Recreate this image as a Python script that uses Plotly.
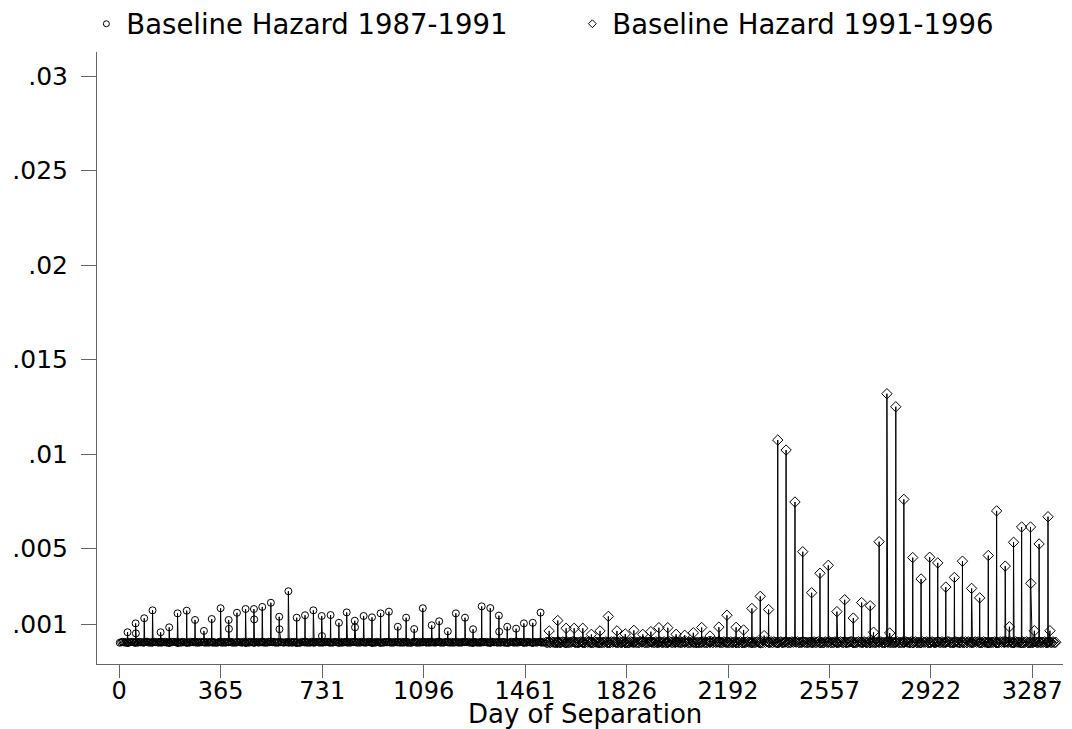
import plotly.graph_objects as go

# Baseline hazard, 1987-1991 cohort: monthly peaks (day of separation, hazard)
peak_days_87 = [30, 59, 90, 120, 149, 180, 210, 243, 273, 305,
                333, 365, 394, 424, 455, 485, 515, 546, 576, 609,
                639, 669, 699, 729, 761, 791, 819, 848, 880, 910,
                941, 971, 1003, 1033, 1062, 1093, 1125, 1152, 1183, 1212,
                1245, 1274, 1305, 1336, 1367, 1397, 1429, 1457, 1489, 1517]
peak_haz_87 = [0.00058, 0.00105, 0.00132, 0.00174, 0.00058, 0.00084, 0.00158, 0.00172, 0.00123, 0.00065,
               0.00128, 0.00185, 0.00123, 0.00161, 0.00181, 0.00181, 0.00192, 0.00214, 0.00140, 0.00275,
               0.00135, 0.00148, 0.00174, 0.00144, 0.00149, 0.00108, 0.00163, 0.00119, 0.00144, 0.00137,
               0.00158, 0.00167, 0.00087, 0.00135, 0.00075, 0.00185, 0.00095, 0.00116, 0.00063, 0.00158,
               0.00135, 0.00074, 0.00195, 0.00186, 0.00146, 0.00087, 0.00077, 0.00105, 0.00108, 0.00162]
# smaller values on the day after some peaks
extra_days_87 = [60, 395, 486, 577, 730, 849, 1368]
extra_haz_87 = [0.00052, 0.00076, 0.00126, 0.00074, 0.00038, 0.00084, 0.00061]
# everyday level between peaks, one digit per 5 days (units of 0.000025)
base_start_87 = 2
base_87 = ("1232131223" "2131322123" "3121232213" "1223121323" "2312132212"
           "1322312132" "2213123121" "1232131223" "3121232213" "2131322123"
           "1223121323" "2312132212" "2213123121" "1322312132" "1232131223"
           "3121232213" "1223121323" "2131322123" "2312132212" "1322312132"
           "2213123121" "1232131223" "2131322123" "3121232213" "1223121323"
           "2312132212" "1322312132" "2213123121" "1232131223" "2131322123"
           "1232131")

# Baseline hazard, 1991-1996 cohort
peak_days_91 = [1548, 1579, 1609, 1638, 1669, 1700, 1731, 1761, 1792, 1822,
                1853, 1885, 1914, 1943, 1975, 2005, 2036, 2067, 2097, 2127,
                2159, 2188, 2221, 2248, 2278, 2308, 2338, 2371, 2401, 2433,
                2461, 2493, 2523, 2553, 2584, 2612, 2643, 2673, 2704, 2736,
                2764, 2796, 2825, 2857, 2887, 2918, 2947, 2976, 3007, 3036,
                3069, 3098, 3129, 3159, 3190, 3220, 3249, 3281, 3312, 3344]
peak_haz_91 = [0.00065, 0.00120, 0.00079, 0.00079, 0.00079, 0.00047, 0.00065, 0.00142, 0.00065, 0.00049,
               0.00068, 0.00047, 0.00061, 0.00082, 0.00082, 0.00047, 0.00042, 0.00055, 0.00083, 0.00038,
               0.00085, 0.00148, 0.00084, 0.00070, 0.00184, 0.00248, 0.00178, 0.01075, 0.01022, 0.00747,
               0.00484, 0.00267, 0.00370, 0.00412, 0.00167, 0.00230, 0.00133, 0.00215, 0.00198, 0.00537,
               0.01320, 0.01251, 0.00761, 0.00453, 0.00340, 0.00455, 0.00425, 0.00297, 0.00348, 0.00434,
               0.00290, 0.00240, 0.00464, 0.00700, 0.00408, 0.00534, 0.00615, 0.00615, 0.00525, 0.00669]
extra_days_91 = [2322, 2716, 2774, 3205, 3282, 3295, 3351]
extra_haz_91 = [0.00040, 0.00058, 0.00054, 0.00087, 0.00317, 0.00066, 0.00066]
base_start_91 = 1537
base_91 = ("2131322123" "1232131223" "3121232213" "2312132212" "1223121323"
           "2213123121" "1322312132" "3121232213" "1232131223" "2131322123"
           "2312132212" "1223121323" "1322312132" "2213123121" "3121232213"
           "1232131223" "2131322123" "1223121323" "2312132212" "2213123121"
           "1322312132" "1232131223" "3121232213" "2131322123" "2312132212"
           "1223121323" "2213123121" "1322312132" "1232131223" "3121232213"
           "2131322123" "2312132212" "1223121323" "1322312132" "2213123121"
           "1232131223" "12321312")
base_unit = 0.000025

x_ticks = [0, 365, 731, 1096, 1461, 1826, 2192, 2557, 2922, 3287]
y_ticks = [0.001, 0.005, 0.01, 0.015, 0.02, 0.025, 0.03]
y_labels = ['.001', '.005', '.01', '.015', '.02', '.025', '.03']


def build_series(start, levels, peak_days, peak_haz, extra_days, extra_haz):
    pts = {}
    for i, c in enumerate(levels):
        pts[start + 5 * i] = int(c) * base_unit
    for d, h in zip(peak_days, peak_haz):
        near = pts.get(start + 5 * round((d - start) / 5), base_unit)
        pts[d - 1] = near
        pts[d + 1] = near
        pts[d] = h
    for d, h in zip(extra_days, extra_haz):
        pts[d] = h
    days = sorted(pts)
    return days, [pts[d] for d in days]


days_87, haz_87 = build_series(base_start_87, base_87, peak_days_87, peak_haz_87,
                               extra_days_87, extra_haz_87)
days_91, haz_91 = build_series(base_start_91, base_91, peak_days_91, peak_haz_91,
                               extra_days_91, extra_haz_91)

fig = go.Figure()
fig.add_trace(go.Scatter(x=days_87, y=haz_87, mode='lines+markers', showlegend=False,
                         line=dict(color='black', width=1),
                         marker=dict(symbol='circle-open', size=7, color='black',
                                     line=dict(width=1))))
fig.add_trace(go.Scatter(x=days_91, y=haz_91, mode='lines+markers', showlegend=False,
                         line=dict(color='black', width=1),
                         marker=dict(symbol='diamond-open', size=8, color='black',
                                     line=dict(width=1))))

# legend entries show the marker only
fig.add_trace(go.Scatter(x=[None], y=[None], mode='markers', name='Baseline Hazard 1987-1991',
                         marker=dict(symbol='circle-open', size=6, color='black',
                                     line=dict(width=1))))
fig.add_trace(go.Scatter(x=[None], y=[None], mode='markers', name='Baseline Hazard 1991-1996',
                         marker=dict(symbol='diamond-open', size=6, color='black',
                                     line=dict(width=1))))

# x title as a plain label under the tick labels
fig.add_annotation(text='Day of Separation', xref='paper', yref='paper',
                   x=0.505, y=-0.0825, xanchor='center', yanchor='middle',
                   showarrow=False, font=dict(size=26))

# page body keeps an 8px margin, so the figure is 8px smaller than the window
fig.update_layout(
    width=1064, height=721,
    margin=dict(l=89, r=9, t=44, b=65, autoexpand=False),
    plot_bgcolor='white', paper_bgcolor='white',
    font=dict(family='DejaVu Sans', color='black', size=25),
    legend=dict(orientation='h', x=-0.011, y=1.086, xanchor='left', yanchor='top',
                entrywidth=441, entrywidthmode='pixels',
                font=dict(size=27.5), bgcolor='rgba(0,0,0,0)'),
    xaxis=dict(range=[-80, 3398], tickvals=x_ticks, ticktext=[str(t) for t in x_ticks],
               showgrid=False, zeroline=False, showline=True, linecolor='#666666',
               linewidth=1, ticks='outside', ticklen=13, tickcolor='#666666',
               tickfont=dict(size=24), ticklabelstandoff=-8, automargin=False),
    yaxis=dict(range=[-0.0011, 0.03128], tickvals=y_ticks, ticktext=y_labels,
               showgrid=False, zeroline=False, showline=True, linecolor='#666666',
               linewidth=1, ticks='outside', ticklen=15, tickcolor='#666666',
               ticklabelstandoff=8, automargin=False),
)

fig.write_html('out.html')
